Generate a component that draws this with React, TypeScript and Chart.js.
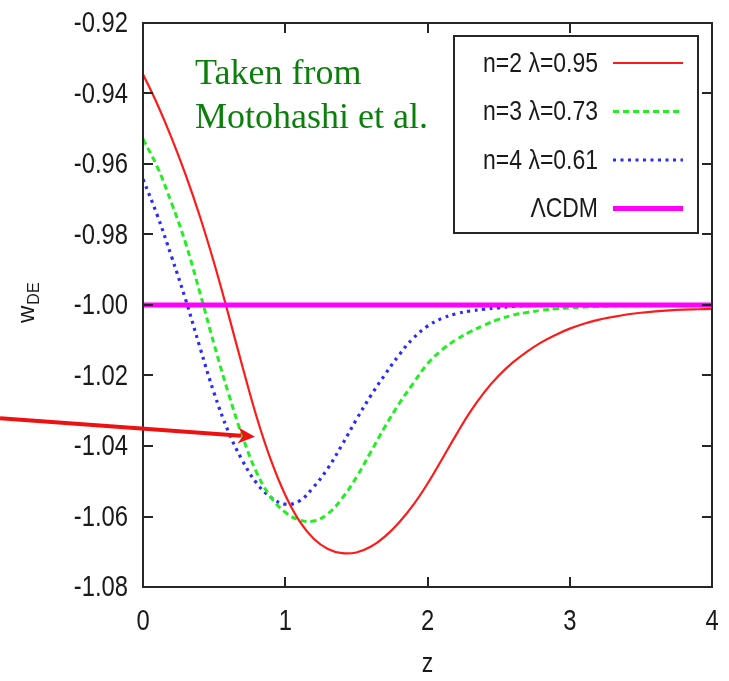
import React, { useEffect, useRef } from "react";
import { Chart, registerables } from "chart.js";

Chart.register(...registerables);

// redshift grid
const zValues = [
  0, 0.1, 0.2, 0.3, 0.4, 0.5, 0.6, 0.7, 0.8, 0.9,
  1.0, 1.1, 1.2, 1.3, 1.4, 1.5, 1.6, 1.7, 1.8, 1.9,
  2.0, 2.1, 2.2, 2.3, 2.4, 2.5, 2.6, 2.7, 2.8, 2.9,
  3.0, 3.1, 3.2, 3.3, 3.4, 3.5, 3.6, 3.7, 3.8, 3.9, 4.0,
];

// w_DE for n=2, lambda=0.95
const wN2 = [
  -0.9345, -0.943, -0.9525, -0.9631, -0.9749, -0.9881, -1.0026, -1.0176, -1.0319, -1.0441,
  -1.0539, -1.0613, -1.0663, -1.0692, -1.0704, -1.0702, -1.0686, -1.0657, -1.0617, -1.0567,
  -1.0507, -1.0439, -1.0369, -1.0303, -1.0247, -1.0201, -1.0163, -1.0132, -1.0106, -1.0085,
  -1.0067, -1.0053, -1.0042, -1.0034, -1.0027, -1.0022, -1.0018, -1.0015, -1.0013, -1.0012, -1.0011,
];

// w_DE for n=3, lambda=0.73
const wN3 = [
  -0.9529, -0.9608, -0.971, -0.9825, -0.9965, -1.0112, -1.025, -1.0374, -1.0476, -1.0546,
  -1.0588, -1.061, -1.0613, -1.0592, -1.0548, -1.0489, -1.0418, -1.0346, -1.028, -1.0222,
  -1.0167, -1.0128, -1.0099, -1.0076, -1.0057, -1.0041, -1.0029, -1.0021, -1.0015, -1.0011,
  -1.0008, -1.0006, -1.0004, -1.0003, -1.0002, -1.0002, -1.0001, -1.0001, -1.0001, -1.0, -1.0,
];

// w_DE for n=4, lambda=0.61
const wN4 = [
  -0.9643, -0.9745, -0.9862, -0.9985, -1.012, -1.025, -1.0359, -1.0442, -1.0506, -1.0546,
  -1.0565, -1.0556, -1.0516, -1.0463, -1.0396, -1.0325, -1.0258, -1.0198, -1.0142, -1.0094,
  -1.006, -1.0038, -1.0025, -1.0017, -1.0012, -1.0008, -1.0004, -1.0002, -1.0001, -1.0001,
  -1.0, -1.0, -1.0, -1.0, -1.0, -1.0, -1.0, -1.0, -1.0, -1.0, -1.0,
];

// cosmological constant
const lcdmZ = [0, 4];
const lcdmW = [-1.0, -1.0];

const xTicks = [0, 1, 2, 3, 4];
const yTicks = [-1.08, -1.06, -1.04, -1.02, -1.0, -0.98, -0.96, -0.94, -0.92];

const legendLabels = ["n=2 \u03bb=0.95", "n=3 \u03bb=0.73", "n=4 \u03bb=0.61", "\u039bCDM"];

// arrow annotation, in (z, w) coordinates: tail then tip
const arrowTail = [-1.005, -1.0321];
const arrowTip = [0.787, -1.0374];

const SANS = '"Liberation Sans", Arial, Helvetica, sans-serif';
const SERIF = '"Liberation Serif", "Times New Roman", serif';
const NARROW = 0.82;

const RED = "#ff1a1a";
const GREEN = "#22ee22";
const BLUE = "#2b2bff";
const MAGENTA = "#ff00ff";
const FRAME = "#262626";
const INK = "#1a1a1a";

const styles = [
  { color: RED, width: 2.2, dash: [] as number[] },
  { color: GREEN, width: 3, dash: [6, 4] },
  { color: BLUE, width: 3.2, dash: [3, 4.5] },
  { color: MAGENTA, width: 5, dash: [] as number[] },
];

const toPoints = (xs: number[], ys: number[]) => xs.map((x, i) => ({ x, y: ys[i] }));

// condensed sans text, in the style of gnuplot's narrow Helvetica
function narrowText(ctx: CanvasRenderingContext2D, text: string, x: number, y: number, size: number, align: CanvasTextAlign) {
  ctx.save();
  ctx.translate(x, y);
  ctx.scale(NARROW, 1);
  ctx.font = `${size}px ${SANS}`;
  ctx.textAlign = align;
  ctx.textBaseline = "middle";
  ctx.fillText(text, 0, 0);
  ctx.restore();
}

const overlay = {
  id: "overlay",
  afterDatasetsDraw(chart: any) {
    const { ctx, chartArea: a, scales } = chart;
    const xs = scales.x;
    const ys = scales.y;
    ctx.save();
    ctx.strokeStyle = FRAME;
    ctx.lineWidth = 2;
    ctx.strokeRect(a.left, a.top, a.right - a.left, a.bottom - a.top);
    const tl = 10;
    ctx.beginPath();
    xTicks.forEach((t) => {
      const px = Math.round(xs.getPixelForValue(t));
      ctx.moveTo(px, a.bottom);
      ctx.lineTo(px, a.bottom - tl);
      ctx.moveTo(px, a.top);
      ctx.lineTo(px, a.top + tl);
    });
    yTicks.forEach((t) => {
      const py = Math.round(ys.getPixelForValue(t));
      ctx.moveTo(a.left, py);
      ctx.lineTo(a.left + tl, py);
      ctx.moveTo(a.right, py);
      ctx.lineTo(a.right - tl, py);
    });
    ctx.stroke();

    // tick labels
    ctx.fillStyle = INK;
    xTicks.forEach((t) => {
      narrowText(ctx, String(t), xs.getPixelForValue(t), a.bottom + 35, 29, "center");
    });
    yTicks.forEach((t) => {
      narrowText(ctx, t.toFixed(2), a.left - 15, ys.getPixelForValue(t) + 1, 29, "right");
    });
    ctx.restore();
  },
  afterDraw(chart: any) {
    const { ctx, chartArea: a, scales } = chart;
    const xs = scales.x;
    const ys = scales.y;
    ctx.save();

    // key box
    const bx = a.right - 258;
    const by = a.top + 13;
    const bw = 244;
    const bh = 197;
    ctx.fillStyle = "#fff";
    ctx.fillRect(bx, by, bw, bh);
    ctx.strokeStyle = FRAME;
    ctx.lineWidth = 2;
    ctx.strokeRect(bx, by, bw, bh);
    legendLabels.forEach((lab, i) => {
      const y = by + 27 + i * 48.5;
      ctx.fillStyle = INK;
      narrowText(ctx, lab, bx + 144, y + 1, 28, "right");
      const s = styles[i];
      ctx.strokeStyle = s.color;
      ctx.lineWidth = s.width;
      ctx.setLineDash(s.dash);
      ctx.beginPath();
      ctx.moveTo(bx + 159, y);
      ctx.lineTo(bx + 229, y);
      ctx.stroke();
      ctx.setLineDash([]);
    });

    // source note
    ctx.fillStyle = "#0b7f0b";
    ctx.font = `36px ${SERIF}`;
    ctx.textAlign = "left";
    ctx.textBaseline = "alphabetic";
    ctx.fillText("Taken from", a.left + 52, a.top + 61);
    ctx.fillText("Motohashi et al.", a.left + 52, a.top + 105);

    // arrow
    const x0 = xs.getPixelForValue(arrowTail[0]);
    const y0 = ys.getPixelForValue(arrowTail[1]);
    const x1 = xs.getPixelForValue(arrowTip[0]);
    const y1 = ys.getPixelForValue(arrowTip[1]);
    const ang = Math.atan2(y1 - y0, x1 - x0);
    const hl = 17;
    const hw = 8;
    const bxp = x1 - hl * Math.cos(ang);
    const byp = y1 - hl * Math.sin(ang);
    ctx.strokeStyle = "#ee1111";
    ctx.fillStyle = "#ee1111";
    ctx.lineWidth = 4;
    ctx.beginPath();
    ctx.moveTo(x0, y0);
    ctx.lineTo(bxp + 3 * Math.cos(ang), byp + 3 * Math.sin(ang));
    ctx.stroke();
    ctx.beginPath();
    ctx.moveTo(x1, y1);
    ctx.lineTo(bxp - hw * Math.sin(ang), byp + hw * Math.cos(ang));
    ctx.lineTo(bxp + 5 * Math.cos(ang), byp + 5 * Math.sin(ang));
    ctx.lineTo(bxp + hw * Math.sin(ang), byp - hw * Math.cos(ang));
    ctx.closePath();
    ctx.fill();

    // axis titles
    ctx.fillStyle = INK;
    narrowText(ctx, "z", (a.left + a.right) / 2, 664, 28, "center");

    ctx.translate(34, 323);
    ctx.rotate(-Math.PI / 2);
    ctx.textAlign = "left";
    ctx.textBaseline = "alphabetic";
    ctx.font = `24px ${SANS}`;
    ctx.fillText("w", 0, 0);
    const ww = ctx.measureText("w").width;
    ctx.font = `16px ${SANS}`;
    ctx.fillText("DE", ww + 1, 5);
    ctx.restore();
  },
};

export default function App() {
  const ref = useRef<HTMLCanvasElement | null>(null);

  useEffect(() => {
    if (!ref.current) return;
    const chart = new Chart(ref.current, {
      type: "line",
      data: {
        datasets: [
          {
            label: legendLabels[3],
            data: toPoints(lcdmZ, lcdmW),
            borderColor: MAGENTA,
            borderWidth: 5,
            pointRadius: 0,
            order: 0,
          },
          {
            label: legendLabels[0],
            data: toPoints(zValues, wN2),
            borderColor: RED,
            borderWidth: styles[0].width,
            pointRadius: 0,
            tension: 0.4,
            order: 1,
          },
          {
            label: legendLabels[1],
            data: toPoints(zValues, wN3),
            borderColor: GREEN,
            borderWidth: styles[1].width,
            borderDash: styles[1].dash,
            pointRadius: 0,
            tension: 0.4,
            order: 2,
          },
          {
            label: legendLabels[2],
            data: toPoints(zValues, wN4),
            borderColor: BLUE,
            borderWidth: styles[2].width,
            borderDash: styles[2].dash,
            pointRadius: 0,
            tension: 0.4,
            order: 3,
          },
        ],
      },
      options: {
        animation: false,
        responsive: false,
        devicePixelRatio: 1,
        events: [],
        layout: { padding: { top: 23, right: 17, left: 0, bottom: 0 } },
        plugins: { legend: { display: false }, tooltip: { enabled: false } },
        scales: {
          x: {
            type: "linear",
            min: 0,
            max: 4,
            grid: { display: false, drawTicks: false },
            border: { display: false },
            ticks: { display: false },
            afterFit: (s: any) => {
              s.height = 94;
              s.paddingLeft = 0;
              s.paddingRight = 0;
            },
          },
          y: {
            type: "linear",
            min: -1.08,
            max: -0.92,
            grid: { display: false, drawTicks: false },
            border: { display: false },
            ticks: { display: false },
            afterFit: (s: any) => {
              s.width = 143;
              s.paddingTop = 0;
              s.paddingBottom = 0;
            },
          },
        },
      },
      plugins: [overlay],
    } as any);
    return () => chart.destroy();
  }, []);

  return (
    <div style={{ position: "fixed", left: 0, top: 0, width: 729, height: 681, background: "#fff" }}>
      <canvas ref={ref} width={729} height={681} style={{ width: 729, height: 681 }} />
    </div>
  );
}
